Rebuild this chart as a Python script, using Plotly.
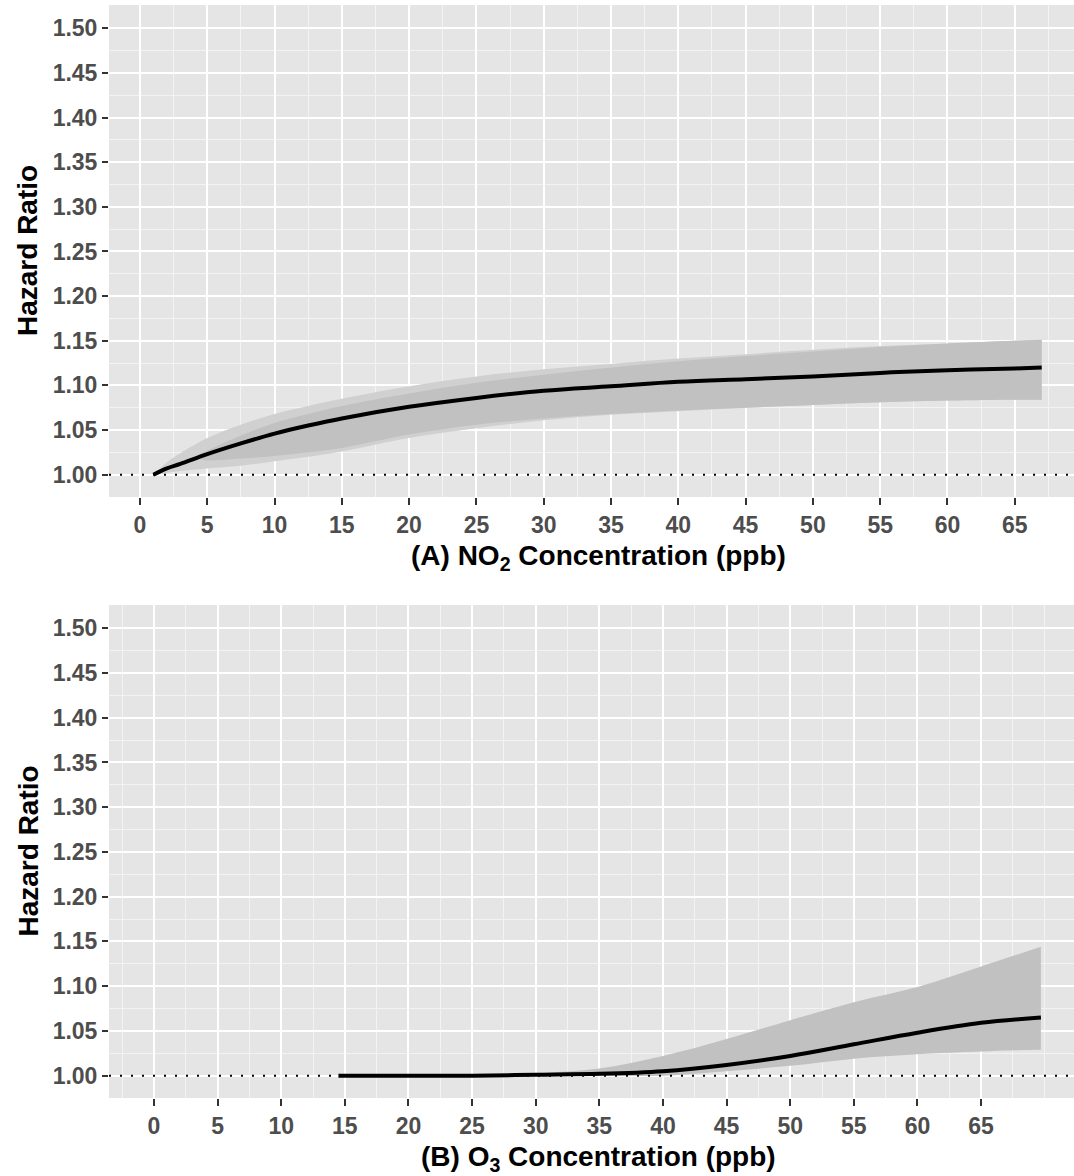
import plotly.graph_objects as go

# ---------------- data ----------------
# Panel A: NO2
no2_x     = [1, 2, 3, 5, 7.5, 10, 12.5, 15, 20, 25, 30, 35, 40, 45, 50, 55, 60, 65, 67]
no2_hr    = [1.000, 1.007, 1.012, 1.023, 1.035, 1.046, 1.055, 1.063, 1.076, 1.086, 1.094, 1.099, 1.104, 1.107, 1.110, 1.114, 1.117, 1.119, 1.120]
no2_upper = [1.000, 1.014, 1.024, 1.041, 1.056, 1.068, 1.077, 1.085, 1.099, 1.110, 1.118, 1.124, 1.130, 1.135, 1.140, 1.144, 1.147, 1.150, 1.151]
no2_lower = [1.000, 1.002, 1.004, 1.007, 1.010, 1.015, 1.020, 1.026, 1.041, 1.052, 1.061, 1.067, 1.071, 1.075, 1.078, 1.081, 1.083, 1.084, 1.084]
# overlapping (darker) part of the NO2 confidence band
no2_core_x     = [4, 5, 7.5, 10, 12.5, 15, 20, 25, 30, 35, 40, 45, 50, 55, 60, 65, 67]
no2_core_upper = [1.019, 1.027, 1.044, 1.058, 1.068, 1.077, 1.091, 1.103, 1.112, 1.120, 1.127, 1.133, 1.138, 1.143, 1.147, 1.150, 1.151]
no2_core_lower = [1.019, 1.016, 1.018, 1.021, 1.025, 1.030, 1.045, 1.056, 1.063, 1.068, 1.072, 1.075, 1.078, 1.081, 1.083, 1.084, 1.084]

# Panel B: O3
o3_x     = [14.5, 20, 25, 30, 35, 40, 45, 50, 55, 60, 65, 69.7]
o3_hr    = [1.000, 1.000, 1.000, 1.001, 1.002, 1.005, 1.012, 1.022, 1.035, 1.048, 1.059, 1.065]
o3_upper = [1.000, 1.000, 1.001, 1.003, 1.008, 1.022, 1.041, 1.062, 1.082, 1.099, 1.122, 1.144]
o3_lower = [1.000, 1.000, 1.000, 1.000, 1.000, 1.000, 1.005, 1.011, 1.019, 1.024, 1.027, 1.029]

x_ticks_a = [0, 5, 10, 15, 20, 25, 30, 35, 40, 45, 50, 55, 60, 65]
x_ticks_b = [0, 5, 10, 15, 20, 25, 30, 35, 40, 45, 50, 55, 60, 65]
y_ticks = [1.00, 1.05, 1.10, 1.15, 1.20, 1.25, 1.30, 1.35, 1.40, 1.45, 1.50]

title_a = "(A) NO<sub>2</sub> Concentration (ppb)"
title_b = "(B) O<sub>3</sub> Concentration (ppb)"
y_title = "Hazard Ratio"

# ---------------- style ----------------
FONT = "Liberation Sans, Arial, Helvetica, sans-serif"
BG = "#E5E5E5"
RIBBON = "#C1C1C1"
RIBBON_LIGHT = "#D0D0D0"

fig = go.Figure()

def add_band(x, up, lo, color, xa, ya):
    fig.add_trace(go.Scatter(
        x=x, y=lo, mode="lines", line=dict(width=0, shape="spline"),
        hoverinfo="skip", showlegend=False, xaxis=xa, yaxis=ya))
    fig.add_trace(go.Scatter(
        x=x, y=up, mode="lines", line=dict(width=0, shape="spline"),
        fill="tonexty", fillcolor=color, hoverinfo="skip", showlegend=False,
        xaxis=xa, yaxis=ya))

def add_line(x, hr, xa, ya):
    fig.add_trace(go.Scatter(
        x=x, y=hr, mode="lines", line=dict(color="black", width=4, shape="spline"),
        showlegend=False, xaxis=xa, yaxis=ya))

add_band(no2_x, no2_upper, no2_lower, RIBBON_LIGHT, "x", "y")
add_band(no2_core_x, no2_core_upper, no2_core_lower, RIBBON, "x", "y")
add_line(no2_x, no2_hr, "x", "y")
add_band(o3_x, o3_upper, o3_lower, RIBBON, "x2", "y2")
add_line(o3_x, o3_hr, "x2", "y2")

W, H = 1074, 1176
L, R, T, B = 109, 0, 5, 78
ph = H - T - B
a_bot = (1098 - 497) / ph
b_top = (1098 - 605) / ph

tickfont = dict(family=FONT, size=23, color="#4D4D4D", weight="bold")

def xaxis_cfg(rng, vals, anchor):
    return dict(range=rng, tickmode="array", tickvals=vals, ticktext=[str(v) for v in vals],
                showgrid=True, gridcolor="white", gridwidth=2, zeroline=False,
                ticks="outside", ticklen=7, tickwidth=2, tickcolor="#333333",
                tickfont=tickfont, showline=False, anchor=anchor, domain=[0, 1],
                automargin=False,
                minor=dict(tickmode="linear", tick0=0, dtick=2.5, showgrid=True,
                           gridcolor="#F3F3F3", gridwidth=1, ticks=""))

def yaxis_cfg(dom, anchor):
    return dict(range=[0.975, 1.526], tickmode="array", tickvals=y_ticks,
                ticktext=["%.2f" % v for v in y_ticks],
                showgrid=True, gridcolor="white", gridwidth=2, zeroline=False,
                ticks="outside", ticklen=6, tickwidth=2, tickcolor="#333333",
                tickfont=tickfont, showline=False, anchor=anchor, domain=dom,
                automargin=False,
                minor=dict(tickmode="linear", tick0=1.0, dtick=0.025, showgrid=True,
                           gridcolor="#F3F3F3", gridwidth=1, ticks=""))

fig.update_layout(
    width=W, height=H, margin=dict(l=L, r=R, t=T, b=B, autoexpand=False),
    paper_bgcolor="white", plot_bgcolor=BG,
    font=dict(family=FONT),
    xaxis=xaxis_cfg([-2.3, 69.4], x_ticks_a, "y"),
    yaxis=yaxis_cfg([a_bot, 1], "x"),
    xaxis2=xaxis_cfg([-3.53, 72.3], x_ticks_b, "y2"),
    yaxis2=yaxis_cfg([0, b_top], "x2"),
)

# dotted reference lines at HR = 1
for xr, yr in (("x", "y"), ("x2", "y2")):
    fig.add_shape(type="line", xref=f"{xr} domain", yref=yr, x0=0, x1=1, y0=1.0, y1=1.0,
                  line=dict(color="black", width=2, dash="2px,9px"), layer="above")

def px2paper_x(px):
    return (px - L) / (W - L - R)

def px2paper_y(py):
    return (H - B - py) / ph

ann_font = dict(family=FONT, size=28, color="black", weight="bold")
fig.add_annotation(text=title_a, x=px2paper_x(598), y=px2paper_y(557), xref="paper", yref="paper",
                   showarrow=False, font=ann_font, xanchor="center", yanchor="middle")
fig.add_annotation(text=title_b, x=px2paper_x(598), y=px2paper_y(1159), xref="paper", yref="paper",
                   showarrow=False, font=ann_font, xanchor="center", yanchor="middle")
for yc in (251, 851.5):
    fig.add_annotation(text=y_title, x=px2paper_x(28), y=px2paper_y(yc), xref="paper", yref="paper",
                       showarrow=False, font=ann_font, textangle=-90, xanchor="center", yanchor="middle")

fig.write_html("out.html", config={"displayModeBar": False},
               post_script="document.body.style.margin='0px';document.body.style.overflow='hidden';")
